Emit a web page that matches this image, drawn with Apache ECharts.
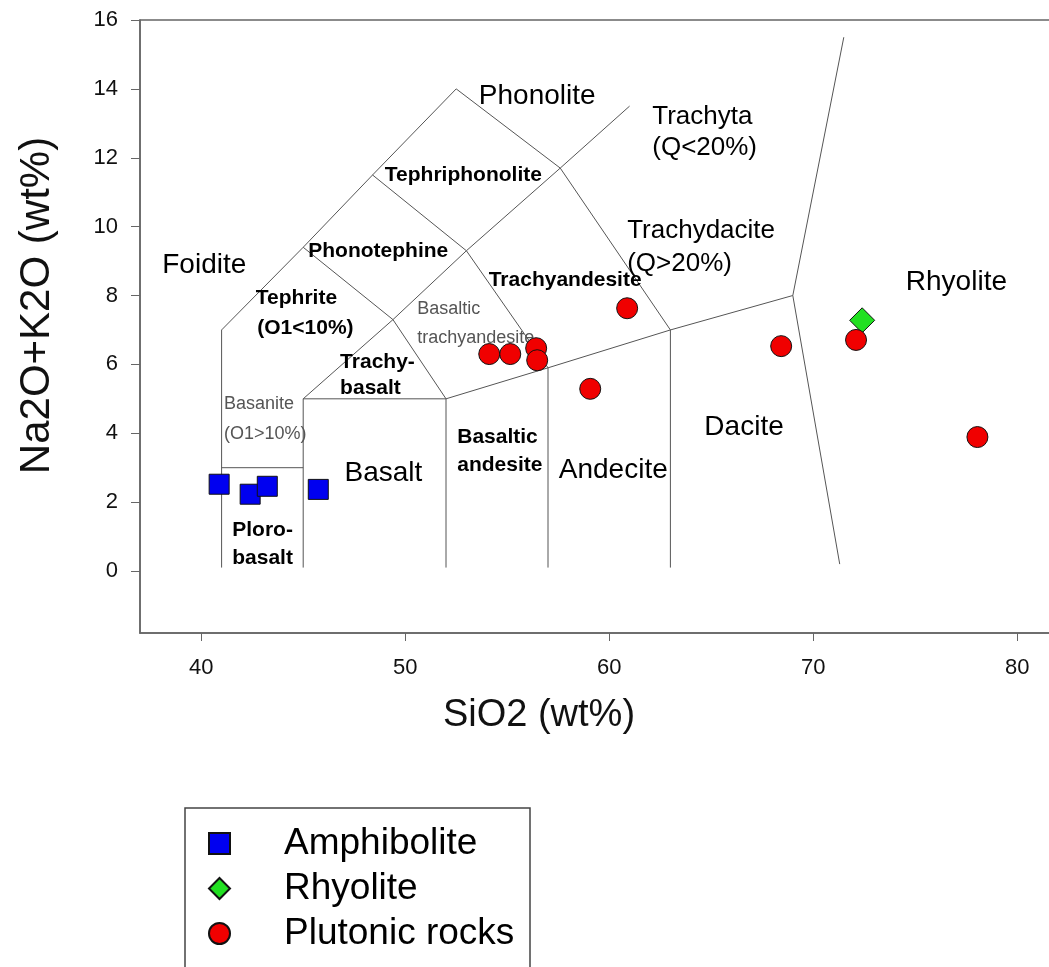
<!DOCTYPE html>
<html>
<head>
<meta charset="utf-8">
<script src="https://cdn.jsdelivr.net/npm/echarts@6/dist/echarts.min.js"></script>
<style>
  html, body { margin: 0; padding: 0; background: #fff; }
  #chart { width: 1049px; height: 967px; }
</style>
</head>
<body>
<div id="chart"></div>
<script>
// axis ticks
const xTicks = [40, 50, 60, 70, 80];
const yTicks = [0, 2, 4, 6, 8, 10, 12, 14, 16];

// samples [SiO2, Na2O+K2O]
const amphibolite = [[40.88, 2.52], [42.40, 2.23], [43.24, 2.46], [45.74, 2.37]];
const rhyolite = [[72.40, 7.28]];
const plutonic = [[54.12, 6.30], [55.15, 6.30], [56.42, 6.47], [56.47, 6.12], [59.07, 5.29],
  [60.88, 7.63], [68.43, 6.53], [72.10, 6.71], [78.05, 3.89]];

// TAS field boundaries
const boundaries = [
  [[41, 0.1], [41, 7], [45, 9.4], [48.4, 11.5], [52.5, 14], [57.6, 11.7], [63, 7], [63, 0.1]],
  [[41, 3], [45, 3]],
  [[45, 0.1], [45, 5], [52, 5], [52, 0.1]],
  [[45, 5], [49.4, 7.3], [53, 9.3], [57.6, 11.7], [61, 13.5]],
  [[45, 9.4], [49.4, 7.3], [52, 5], [57, 5.9], [63, 7], [69, 8], [71.5, 15.5]],
  [[48.4, 11.5], [53, 9.3], [57, 5.9], [57, 0.1]],
  [[69, 8], [71.3, 0.2]]
];

// field names: [text, SiO2, Na2O+K2O, anchor]
const fieldNames = [
  ['Phonolite', 56.47, 13.79, 'center'],
  ['Trachyta', 62.11, 13.18, 'left'],
  ['(Q<20%)', 62.11, 12.28, 'left'],
  ['Tephriphonolite', 52.85, 11.49, 'center'],
  ['Phonotephine', 48.68, 9.29, 'center'],
  ['Foidite', 40.15, 8.88, 'center'],
  ['Tephrite', 44.67, 7.92, 'center'],
  ['(O1<10%)', 45.11, 7.05, 'center'],
  ['Basaltic', 50.59, 7.60, 'left'],
  ['trachyandesite', 50.59, 6.76, 'left'],
  ['Trachyandesite', 57.84, 8.45, 'center'],
  ['Trachydacite', 60.88, 9.89, 'left'],
  ['(Q>20%)', 60.88, 8.93, 'left'],
  ['Rhyolite', 77.02, 8.39, 'center'],
  ['Trachy-', 46.81, 6.06, 'left'],
  ['basalt', 46.81, 5.31, 'left'],
  ['Basanite', 41.12, 4.84, 'left'],
  ['(O1>10%)', 41.12, 3.97, 'left'],
  ['Basalt', 48.93, 2.84, 'center'],
  ['Basaltic', 52.55, 3.89, 'left'],
  ['andesite', 52.55, 3.07, 'left'],
  ['Andecite', 60.20, 2.92, 'center'],
  ['Dacite', 66.61, 4.17, 'center'],
  ['Ploro-', 41.52, 1.18, 'left'],
  ['basalt', 41.52, 0.37, 'left']
];

const bigNames = ['Phonolite', 'Foidite', 'Rhyolite', 'Basalt', 'Andecite', 'Dacite'];
const midNames = ['Trachyta', '(Q<20%)', 'Trachydacite', '(Q>20%)'];
const greyRows = [8, 9, 16, 17]; // indexes of the light grey names

const font = 'Liberation Sans, Arial, sans-serif';

function nameLabel(row, i) {
  let style = { fontSize: 21, fontWeight: 'bold', color: '#000' };
  if (bigNames.includes(row[0])) style = { fontSize: 28, fontWeight: 'normal', color: '#000' };
  else if (midNames.includes(row[0])) style = { fontSize: 26, fontWeight: 'normal', color: '#000' };
  else if (greyRows.includes(i)) style = { fontSize: 18, fontWeight: 'normal', color: '#555' };
  return {
    name: row[0],
    value: [row[1], row[2]],
    label: Object.assign({ align: row[3] }, style)
  };
}

const chart = echarts.init(document.getElementById('chart'));

const series = boundaries.map(pts => ({
  type: 'line',
  data: pts,
  symbol: 'none',
  silent: true,
  z: 1,
  lineStyle: { color: '#555', width: 1 }
}));

series.push({
  type: 'scatter',
  data: fieldNames.map(nameLabel),
  symbolSize: 1,
  silent: true,
  z: 2,
  itemStyle: { color: 'rgba(0,0,0,0)', opacity: 1 },
  label: {
    show: true,
    position: 'inside',
    formatter: '{b}',
    fontFamily: font,
    opacity: 1,
    verticalAlign: 'middle'
  }
});

series.push({
  name: 'Amphibolite',
  type: 'scatter',
  data: amphibolite,
  symbol: 'rect',
  symbolSize: 20,
  z: 5,
  itemStyle: { color: '#0000f0', borderColor: '#111', borderWidth: 1, opacity: 1 }
});
series.push({
  name: 'Rhyolite',
  type: 'scatter',
  data: rhyolite,
  symbol: 'diamond',
  symbolSize: 25,
  z: 5,
  itemStyle: { color: '#22e022', borderColor: '#111', borderWidth: 1, opacity: 1 }
});
series.push({
  name: 'Plutonic rocks',
  type: 'scatter',
  data: plutonic,
  symbol: 'circle',
  symbolSize: 21,
  z: 5,
  itemStyle: { color: '#f00000', borderColor: '#111', borderWidth: 1, opacity: 1 }
});

const option = {
  animation: false,
  textStyle: { fontFamily: font },
  grid: {
    left: 140,
    right: -9,
    top: 20,
    bottom: 334,
    outerBoundsMode: 'none',
    show: true,
    borderColor: '#666',
    borderWidth: 1.5
  },
  xAxis: {
    type: 'value',
    min: 37,
    max: 82,
    name: 'SiO2 (wt%)',
    nameLocation: 'middle',
    nameGap: 64,
    nameTextStyle: { fontSize: 38, color: '#111', padding: [0, 120, 0, 0] },
    axisLine: { onZero: false, lineStyle: { color: '#666', width: 1.5 } },
    axisTick: { customValues: xTicks, length: 8, lineStyle: { color: '#666' } },
    axisLabel: { customValues: xTicks, fontSize: 22, color: '#111', margin: 24 },
    splitLine: { show: false }
  },
  yAxis: {
    type: 'value',
    min: -1.8,
    max: 16,
    name: 'Na2O+K2O (wt%)',
    nameLocation: 'middle',
    nameRotate: 90,
    nameGap: 82,
    nameTextStyle: { fontSize: 42, color: '#111', padding: [0, 0, 0, 42] },
    axisLine: { onZero: false, lineStyle: { color: '#666', width: 1.5 } },
    axisTick: { customValues: yTicks, length: 9, lineStyle: { color: '#666' } },
    axisLabel: { customValues: yTicks, fontSize: 22, color: '#111', margin: 22 },
    splitLine: { show: false }
  },
  legend: {
    data: ['Amphibolite', 'Rhyolite', 'Plutonic rocks'],
    orient: 'vertical',
    left: 203,
    top: 820,
    itemWidth: 21,
    itemHeight: 21,
    itemGap: 8,
    textStyle: { fontSize: 37, color: '#000', padding: [0, 0, 0, 49] }
  },
  graphic: [{
    type: 'rect',
    shape: { x: 185, y: 808, width: 345, height: 200 },
    style: { fill: 'none', stroke: '#444', lineWidth: 1.5 },
    silent: true
  }],
  series: series
};

chart.setOption(option);
</script>
</body>
</html>
